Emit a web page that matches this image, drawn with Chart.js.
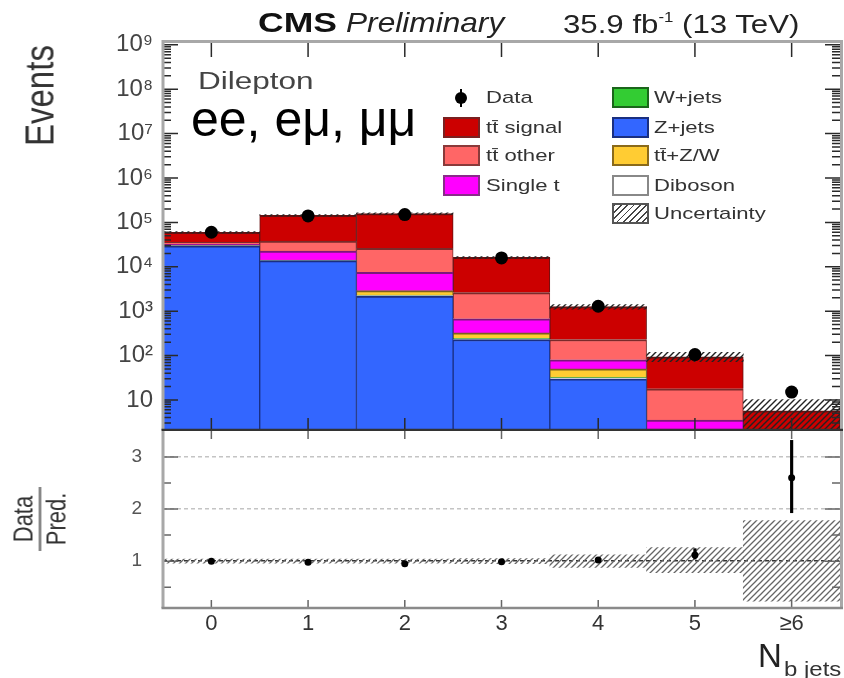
<!DOCTYPE html>
<html><head><meta charset="utf-8">
<script src="https://cdn.jsdelivr.net/npm/chart.js@4.4.1/dist/chart.umd.min.js"></script>
<style>
html,body{margin:0;padding:0;background:#fff;}
#wrap{position:relative;width:844px;height:678px;overflow:hidden;font-family:"Liberation Sans",Arial,Helvetica,sans-serif;background:#fff;}
canvas{position:absolute;left:0;}
.t{position:absolute;white-space:nowrap;line-height:1;transform-origin:0 0;color:#222;}
.box{position:absolute;width:33px;height:17px;border:2px solid #555;box-sizing:content-box;}
.lt{position:absolute;white-space:nowrap;line-height:1;font-size:17px;color:#333;transform:scaleX(1.3);transform-origin:0 0;}
</style></head><body>
<div id="wrap">
<canvas id="main" width="844" height="431" style="top:0"></canvas>
<canvas id="ratio" width="844" height="247" style="top:431px"></canvas>

<div class="t" style="left:258px;top:9px;font-size:28px;font-weight:bold;color:#111;transform:scaleX(1.27)">CMS</div>
<div class="t" style="left:346px;top:9px;font-size:28px;font-style:italic;transform:scaleX(1.13)">Preliminary</div>
<div class="t" style="left:563px;top:11px;font-size:26px;transform:scaleX(1.2)">35.9 fb<span style="font-size:14px;position:relative;top:-11px">-1</span> (13 TeV)</div>

<div class="t" style="left:18px;top:146px;font-size:33px;color:#333;transform:rotate(-90deg) scaleY(1.25)">Events</div>
<div class="t" style="left:10px;top:551px;width:64px;text-align:center;font-size:22px;color:#333;transform:rotate(-90deg) scaleY(1.25)">
  <div style="line-height:22px">Data</div>
  <div style="height:1.5px;background:#777;margin:1px 0"></div>
  <div style="line-height:22px">Pred.</div>
</div>

<div class="t" style="left:198px;top:70px;font-size:23px;color:#444;transform:scaleX(1.37)">Dilepton</div>
<div class="t" style="left:191px;top:94px;font-size:50px;color:#000">ee, eμ, μμ</div>

<div class="t" style="left:758px;top:639px;font-size:33px;color:#222">N</div>
<div class="t" style="left:784px;top:659px;font-size:20px;color:#333;transform:scaleX(1.2)">b jets</div>

<div id="legend"></div>
</div>

<script>
// ---------------- data ----------------
const categories = ["0", "1", "2", "3", "4", "5", "\u22656"];
const ttSignal  = [24000, 107000, 131000, 13600, 1030, 76, 4.5];
const ttOther   = [4100, 15400, 18500, 1950, 150, 14.3, 0.9];
const singleTop = [2000, 8400, 4600, 350, 30, 1.3, 0.15];
const ttZW      = [50, 150, 600, 80, 18, 1.5, 0.1];
const wJets     = [200, 150, 50, 5, 1, 0.1, 0];
const diboson   = [150, 100, 60, 8, 1, 0.1, 0.01];
const zJets     = [29500, 13800, 2180, 230, 30, 0.5, 0.05];
const dataCounts = [60000, 140000, 150000, 15800, 1290, 105, 15];
const uncUp   = [0.04, 0.04, 0.04, 0.05, 0.12, 0.26, 0.78];
const uncDown = [0.04, 0.04, 0.04, 0.05, 0.12, 0.22, 0.77];
const ratioValues  = [1.0, 0.98, 0.95, 0.99, 1.02, 1.12, 2.6];
const ratioErrLow  = [0.01, 0.01, 0.01, 0.01, 0.03, 0.08, 0.67];
const ratioErrHigh = [0.01, 0.01, 0.01, 0.01, 0.03, 0.12, 0.72];
const yTickValues = [10, 100, 1e3, 1e4, 1e5, 1e6, 1e7, 1e8, 1e9];
const ratioTickValues = [1, 2, 3];

// ---------------- styles ----------------
const FONT = '"Liberation Sans", Arial, Helvetica, sans-serif';
Chart.defaults.font.family = FONT;
const components = [
  {label: "Z+jets",    vals: zJets,     fill: "#3366ff", edge: "#1a2f80"},
  {label: "Diboson",   vals: diboson,   fill: "#ffffff", edge: "#888888"},
  {label: "W+jets",    vals: wJets,     fill: "#33cc33", edge: "#1a661a"},
  {label: "tt\u0304+Z/W", vals: ttZW,   fill: "#ffcc33", edge: "#7a6020"},
  {label: "Single t",  vals: singleTop, fill: "#ff00ff", edge: "#7a1a7a"},
  {label: "tt\u0304 other", vals: ttOther, fill: "#ff6666", edge: "#7a2a2a"},
  {label: "tt\u0304 signal", vals: ttSignal, fill: "#cc0000", edge: "#661010"}
];

function hatch(canvasId, color, lw, s) {
  const c = document.createElement('canvas'); c.width = s; c.height = s;
  const g = c.getContext('2d'); g.strokeStyle = color; g.lineWidth = lw;
  g.beginPath();
  g.moveTo(0, s); g.lineTo(s, 0);
  g.moveTo(-s/2, s/2); g.lineTo(s/2, -s/2);
  g.moveTo(s/2, s*1.5); g.lineTo(s*1.5, s/2);
  g.stroke();
  return document.getElementById(canvasId).getContext('2d').createPattern(c, 'repeat');
}
const hatchMain = hatch('main', '#222', 1.4, 6);
const hatchRatio = hatch('ratio', '#666', 1.3, 6);

// ---------------- stacked floating bars ----------------
let base = categories.map(() => 1e-3);
const barSets = components.map((c, k) => {
  const d = c.vals.map((v, i) => [base[i], base[i] + v]);
  base = base.map((b, i) => b + c.vals[i]);
  return {type: 'bar', label: c.label, data: d, backgroundColor: c.fill, borderColor: c.edge,
    borderWidth: {top: 2, left: 1, right: 1, bottom: 0}, borderSkipped: false,
    grouped: false, barPercentage: 1, categoryPercentage: 1, order: 10 + k};
});
const totals = base.slice();
const uncBand = totals.map((t, i) => [t * (1 - uncDown[i]), t * (1 + uncUp[i])]);

function supLabel(v) {
  const e = Math.round(Math.log10(v));
  const sup = "\u2070\u00b9\u00b2\u00b3\u2074\u2075\u2076\u2077\u2078\u2079";
  return e === 1 ? "10" : "10" + sup[e];
}

const framePlugin = {
  id: 'frame',
  afterDraw(chart, args, opts) {
    const {ctx, chartArea: a, scales: {x, y}} = chart;
    ctx.save();
    ctx.lineCap = 'butt';
    ctx.strokeStyle = opts.tickColor; ctx.lineWidth = 1.5;
    ctx.beginPath();
    opts.yTicks(y).forEach(([v, len]) => {
      const p = y.getPixelForValue(v);
      ctx.moveTo(a.left, p); ctx.lineTo(a.left + len, p);
      ctx.moveTo(a.right, p); ctx.lineTo(a.right - len, p);
    });
    categories.forEach((c, i) => {
      const px = x.getPixelForValue(i);
      ctx.moveTo(px, a.top); ctx.lineTo(px, a.top + opts.topLen);
      ctx.moveTo(px, a.bottom); ctx.lineTo(px, a.bottom - opts.botLen);
    });
    ctx.stroke();
    ctx.strokeStyle = '#a8a8a8'; ctx.lineWidth = 3;
    ctx.beginPath();
    ctx.moveTo(a.left, a.bottom); ctx.lineTo(a.left, a.top + opts.topInset);
    if (opts.topLine) ctx.lineTo(a.right + 1.5, a.top + opts.topInset); else ctx.moveTo(a.right + 1.5, a.top);
    ctx.lineTo(a.right + 1.5, a.bottom);
    ctx.stroke();
    ctx.strokeStyle = opts.bottomColor; ctx.lineWidth = 2.5;
    ctx.beginPath(); ctx.moveTo(a.left - 1.5, a.bottom); ctx.lineTo(a.right + 3, a.bottom); ctx.stroke();
    ctx.restore();
  }
};

function logTicks(y) {
  const out = [];
  for (let e = 0; e <= 9; e++) for (let m = 1; m <= 9; m++) {
    const v = m * Math.pow(10, e);
    if (v >= y.min && v <= y.max) out.push([v, m === 1 ? 15 : 8]);
  }
  return out;
}
function ratioTicks(y) {
  return [[0.5, 8], [1, 15], [1.5, 8], [2, 15], [2.5, 8], [3, 15]];
}

// ---------------- main panel ----------------
new Chart(document.getElementById('main'), {
  type: 'bar',
  data: {
    labels: categories,
    datasets: [
      {type: 'line', label: 'Data', data: dataCounts, showLine: false, pointRadius: 6.5, pointHoverRadius: 6.5,
       pointBackgroundColor: '#000', pointBorderWidth: 0, order: 0},
      {type: 'bar', label: 'Uncertainty', data: uncBand, backgroundColor: hatchMain, borderWidth: 0,
       grouped: false, barPercentage: 1, categoryPercentage: 1, order: 1},
      ...barSets
    ]
  },
  options: {
    responsive: false, animation: false, devicePixelRatio: 1,
    layout: {autoPadding: false, padding: {top: 43, bottom: 1, left: 0, right: 4}},
    plugins: {legend: {display: false}, tooltip: {enabled: false},
      frame: {tickColor: '#2a2a2a', topLen: 14, botLen: 12, yTicks: logTicks, topLine: true, topInset: -1.5, bottomColor: '#333'}},
    scales: {
      x: {type: 'category', display: false, offset: true},
      y: {type: 'logarithmic', min: 2.1, max: 1.1e9,
        afterBuildTicks: s => { s.ticks = yTickValues.map(v => ({value: v})); },
        afterFit: s => { s.width = 163; s.paddingTop = 0; s.paddingBottom = 0; },
        ticks: {callback: v => supLabel(v), font: {size: 24}, color: '#444', padding: 10, autoSkip: false},
        grid: {display: false, drawTicks: false}, border: {display: false}}
    }
  },
  plugins: [framePlugin]
});

// ---------------- ratio panel ----------------
new Chart(document.getElementById('ratio'), {
  type: 'bar',
  data: {
    labels: categories,
    datasets: [
      {type: 'line', label: 'Ratio', data: ratioValues, showLine: false, pointRadius: 3.5, pointHoverRadius: 3.5,
       pointBackgroundColor: '#000', pointBorderWidth: 0, order: 0},
      {type: 'bar', label: 'Stat', data: ratioValues.map((r, i) => [r - ratioErrLow[i], r + ratioErrHigh[i]]),
       backgroundColor: '#000', borderWidth: 0, grouped: false, barThickness: 2.5, order: 1},
      {type: 'bar', label: 'Uncertainty', data: uncDown.map((d, i) => [1 - d, 1 + uncUp[i]]),
       backgroundColor: hatchRatio, borderWidth: 0, grouped: false, barPercentage: 1, categoryPercentage: 1, order: 2}
    ]
  },
  options: {
    responsive: false, animation: false, devicePixelRatio: 1,
    layout: {autoPadding: false, padding: {top: 0, bottom: 0, left: 0, right: 4}},
    plugins: {legend: {display: false}, tooltip: {enabled: false},
      frame: {tickColor: '#666', topLen: 8, botLen: 8, yTicks: ratioTicks, topLine: false, topInset: 0, bottomColor: '#8a8a8a'}},
    scales: {
      x: {type: 'category', offset: true,
        afterFit: s => { s.height = 70; s.paddingLeft = 0; s.paddingRight = 0; },
        ticks: {font: {size: 22}, color: '#333', padding: 3, maxRotation: 0, autoSkip: false},
        grid: {display: false, drawTicks: false}, border: {display: false}},
      y: {min: 0.1, max: 3.5,
        afterBuildTicks: s => { s.ticks = ratioTickValues.map(v => ({value: v})); },
        afterFit: s => { s.width = 163; s.paddingTop = 0; s.paddingBottom = 0; },
        ticks: {font: {size: 19}, color: '#555', padding: 21, autoSkip: false},
        grid: {display: true, drawTicks: false, lineWidth: 1.5,
          color: c => (c.tick && c.tick.value === 1) ? '#333' : '#c4c4c4'},
        border: {display: false, dash: [4, 3]}}
    }
  },
  plugins: [framePlugin]
});

// ---------------- legend (HTML, real text) ----------------
const legendItems = [
  {col: 0, row: 0, label: "Data", marker: true},
  {col: 0, row: 1, label: "tt\u0304 signal", fill: "#cc0000", edge: "#7a2020"},
  {col: 0, row: 2, label: "tt\u0304 other", fill: "#ff6666", edge: "#8a3a3a"},
  {col: 0, row: 3, label: "Single t", fill: "#ff00ff", edge: "#8a2a8a"},
  {col: 1, row: 0, label: "W+jets", fill: "#33cc33", edge: "#1a661a"},
  {col: 1, row: 1, label: "Z+jets", fill: "#3366ff", edge: "#1a2f80"},
  {col: 1, row: 2, label: "tt\u0304+Z/W", fill: "#ffcc33", edge: "#8a6a1a"},
  {col: 1, row: 3, label: "Diboson", fill: "#ffffff", edge: "#888888"},
  {col: 1, row: 4, label: "Uncertainty", hatch: true}
];
const rowY = [97.5, 127, 155.5, 185, 213];
const boxX = [443, 612], textX = [486, 654];
const leg = document.getElementById('legend');
legendItems.forEach(it => {
  const cy = rowY[it.row];
  if (it.marker) {
    const dot = document.createElement('div');
    dot.style.cssText = `position:absolute;left:${461-6}px;top:${cy-6}px;width:12px;height:12px;border-radius:50%;background:#000`;
    const bar = document.createElement('div');
    bar.style.cssText = `position:absolute;left:${461-1}px;top:${cy-9}px;width:2px;height:18px;background:#000`;
    leg.appendChild(bar); leg.appendChild(dot);
  } else {
    const b = document.createElement('div');
    b.className = 'box';
    b.style.left = boxX[it.col] + 'px';
    b.style.top = (cy - 10.5) + 'px';
    if (it.hatch) { b.style.background = 'repeating-linear-gradient(135deg, #444 0 1.3px, #fff 1.3px 4.5px)'; b.style.borderColor = '#555'; }
    else { b.style.background = it.fill; b.style.borderColor = it.edge; }
    leg.appendChild(b);
  }
  const t = document.createElement('div');
  t.className = 'lt';
  t.textContent = it.label;
  t.style.left = textX[it.col] + 'px';
  t.style.top = (cy - 8.3) + 'px';
  leg.appendChild(t);
});
</script>
</body></html>
